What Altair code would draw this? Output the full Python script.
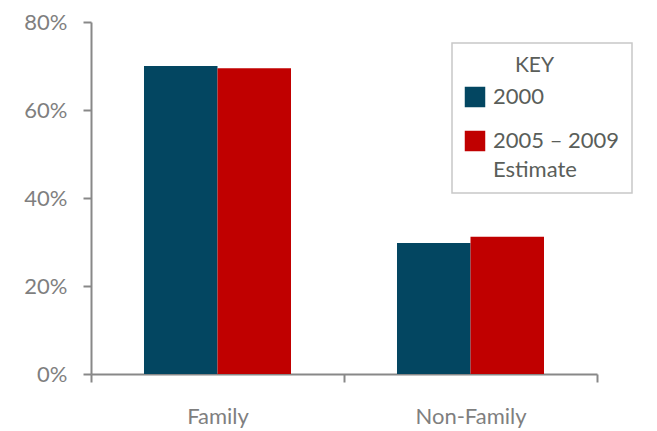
import altair as alt
import pandas as pd

# Household type shares, census 2000 vs. 2005-2009 estimate
categories = ["Family", "Non-Family"]
series = ["2000", "2005 – 2009 Estimate"]
values_2000 = [0.700, 0.298]
values_2009 = [0.695, 0.312]
y_ticks = [0, 0.2, 0.4, 0.6, 0.8]
colors = ["#034661", "#c00000"]

rows = []
for cat, v0, v1 in zip(categories, values_2000, values_2009):
    rows.append({"Type": cat, "Period": series[0], "Share": v0})
    rows.append({"Type": cat, "Period": series[1], "Share": v1})
df = pd.DataFrame(rows)

axis_gray = "#888888"
label_gray = "#7f7f7f"
key_gray = "#5a5e5a"
blank = "\u2800"

# the long key entry wraps onto two lines
label_expr = (
    f"datum.label == '{series[1]}' ? ['2005 – 2009', 'Estimate'] : datum.label"
)

chart = (
    alt.Chart(df)
    .mark_bar()
    .encode(
        x=alt.X(
            "Type:N",
            sort=categories,
            scale=alt.Scale(paddingInner=0, paddingOuter=0),
            axis=alt.Axis(
                title=None,
                labelAngle=0,
                tickBand="extent",
                labelPadding=24,
                labelFontSize=22,
            ),
        ),
        xOffset=alt.XOffset(
            "Period:N",
            sort=series,
            scale=alt.Scale(paddingInner=0, paddingOuter=0.721),
        ),
        y=alt.Y(
            "Share:Q",
            scale=alt.Scale(domain=[0, 0.8]),
            axis=alt.Axis(
                title=None,
                values=y_ticks,
                format=".0%",
                grid=False,
                labelPadding=16,
                labelFontSize=22,
            ),
        ),
        color=alt.Color(
            "Period:N",
            sort=series,
            scale=alt.Scale(domain=series, range=colors),
            legend=alt.Legend(
                title="KEY" + blank,
                orient="none",
                legendX=361,
                legendY=21,
                labelExpr=label_expr,
            ),
        ),
    )
    .properties(
        width=506,
        height=352,
        autosize=alt.AutoSizeParams(type="none"),
        padding={"left": 91, "top": 22, "right": 60, "bottom": 57},
    )
    # looser line spacing for the two-line key entry
    .configure(style={"guide-label": {"lineHeight": 29}})
    .configure_view(stroke=None)
    .configure_axis(
        domainColor=axis_gray,
        domainWidth=2,
        tickColor=axis_gray,
        tickWidth=2,
        tickSize=8,
        labelColor=label_gray,
        labelFont="Lato",
    )
    .configure_legend(
        strokeColor="#c8c8c8",
        strokeWidth=1.5,
        fillColor="white",
        padding=12,
        titleFont="Lato",
        titleFontSize=21,
        titleFontWeight="normal",
        titleColor=key_gray,
        titleAnchor="middle",
        titlePadding=10,
        labelFont="Lato",
        labelFontSize=22,
        labelColor=key_gray,
        labelOffset=7,
        symbolType="square",
        symbolSize=420,
        symbolStrokeWidth=0,
        symbolOpacity=1,
        rowPadding=22,
    )
)

chart.save("out.html", embed_options={"renderer": "svg", "actions": False})
